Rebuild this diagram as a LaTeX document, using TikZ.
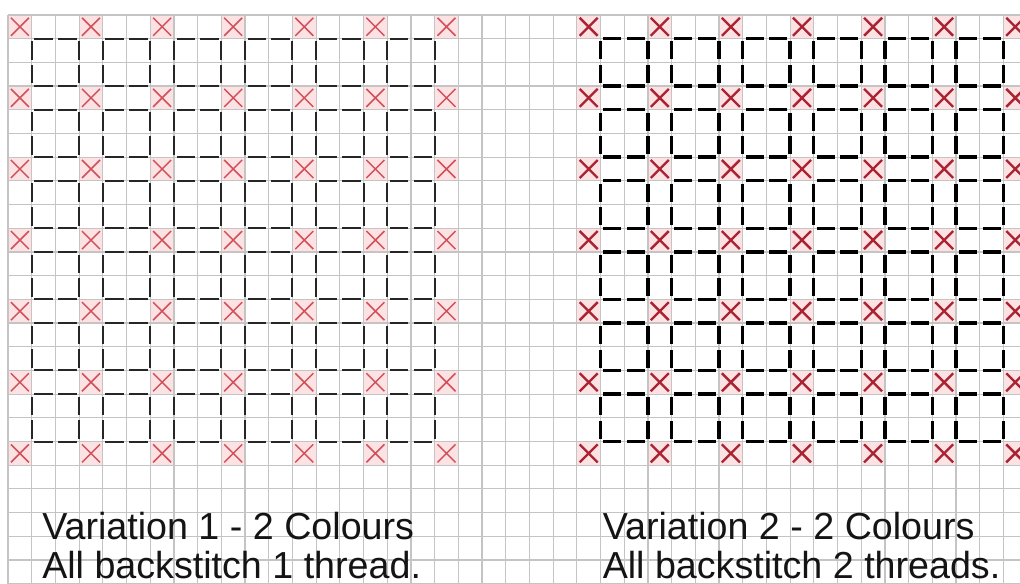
\documentclass[tikz,border=0pt]{standalone}
\usepackage{fontspec}
\setmainfont{Liberation Sans}
\definecolor{gridgray}{RGB}{196,196,196}
\definecolor{crossred}{RGB}{208,80,92}
\definecolor{crossdark}{RGB}{170,35,50}
\definecolor{crosspink}{RGB}{252,226,226}

\begin{document}
\begin{tikzpicture}[x=0.5cm, y=-0.5cm,
    gridline/.style={draw=gridgray, line width=0.7pt},
    stitchthin/.style={draw=black!85, line width=1.2pt, dash pattern=on 11.1pt off 3.126pt, dash phase=12.66pt},
    stitchthick/.style={draw=black, line width=2pt, dash pattern=on 10.8pt off 3.426pt, dash phase=12.51pt},
    crossthin/.style={draw=crossred, line width=0.9pt},
    crossthick/.style={draw=crossdark, line width=1.4pt},
    caption/.style={anchor=base west, inner sep=0pt, text=black!92, font=\fontsize{22.6}{24.6}\selectfont}]
    % 画布
    \useasboundingbox (-0.34,-0.63) rectangle (42.70,24.0);
    \fill[white] (-0.34,-0.63) rectangle (42.70,24.0);

    % 十字格底色
    \foreach \ox in {0, 24} {
        \foreach \i in {0,3,...,18} {
            \foreach \j in {0,3,...,18} {
                \fill[crosspink] (\ox+\i,\j) rectangle +(1,1);
            }
        }
    }

    % 网格
    \foreach \c in {0,...,43} {
        \draw[gridline] (\c,0) -- (\c,24.5);
    }
    \foreach \r in {0,...,24} {
        \draw[gridline] (0,\r) -- (43.5,\r);
    }

    % 十字绣
    \foreach \ox/\st in {0/crossthin, 24/crossthick} {
        \foreach \i in {0,3,...,18} {
            \foreach \j in {0,3,...,18} {
                \draw[\st] (\ox+\i+0.12,\j+0.12) -- +(0.76,0.76)
                           (\ox+\i+0.88,\j+0.12) -- +(-0.76,0.76);
            }
        }
    }

    % 回针
    \foreach \ox/\st in {0/stitchthin, 24/stitchthick} {
        \foreach \i in {1,4,...,16} {
            \foreach \j in {1,4,...,16} {
                \draw[\st] (\ox+\i,\j) rectangle +(2,2);
            }
        }
    }

    % 说明文字
    \node[caption] (cap1a) at (1.43,22.12) {Variation 1 - 2 Colours};
    \node[caption] (cap1b) at (1.43,23.8) {All backstitch 1 thread.};
    \node[caption] (cap2a) at (25.08,22.12) {Variation 2 - 2 Colours};
    \node[caption] (cap2b) at (25.08,23.8) {All backstitch 2 threads.};
\end{tikzpicture}
\end{document}
